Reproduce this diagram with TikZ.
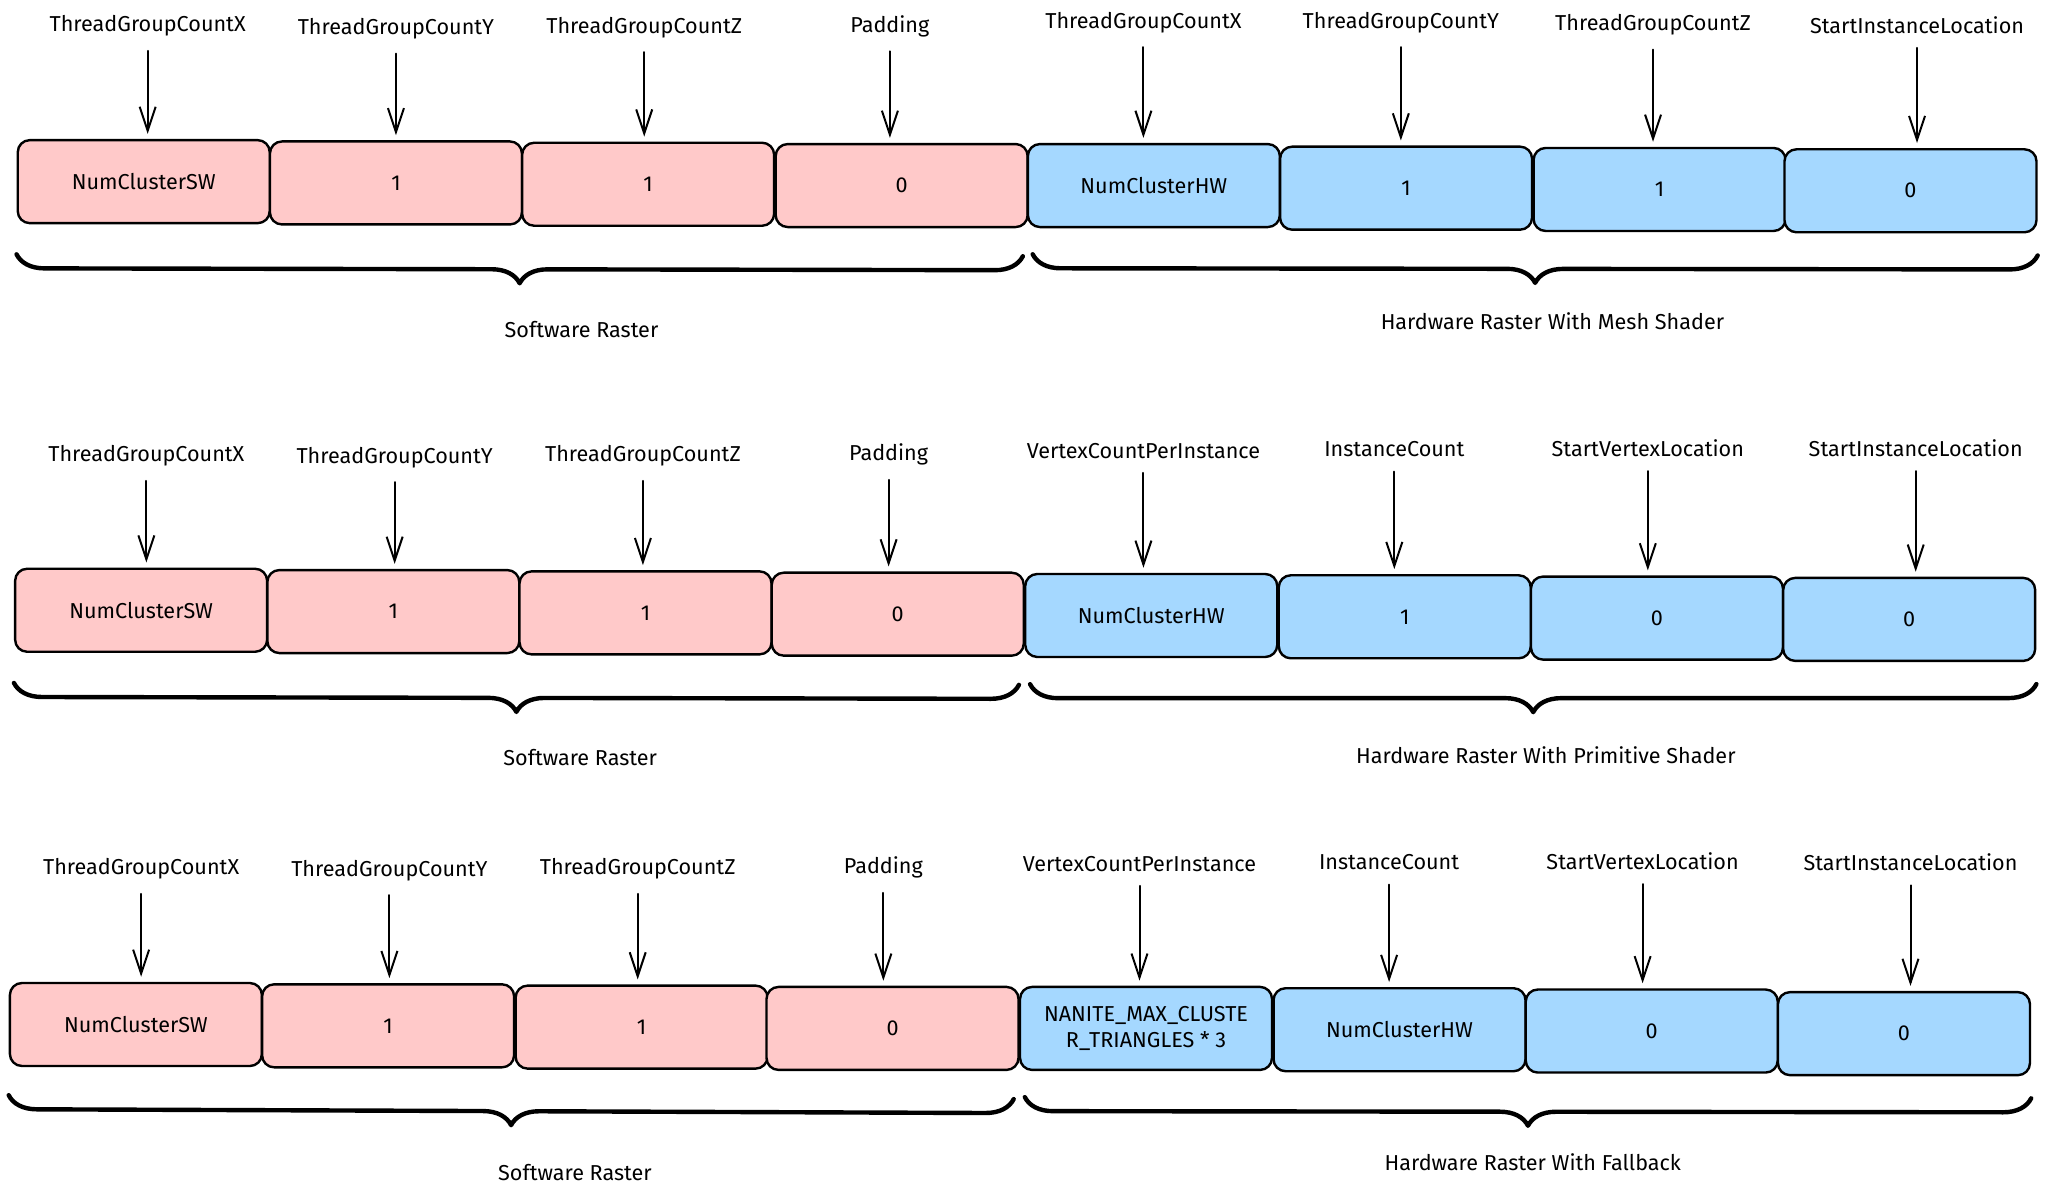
\documentclass[tikz,border=0pt]{standalone}
\usepackage{fontspec}
\setmainfont{Fira Sans}
\usetikzlibrary{arrows.meta,decorations.pathreplacing}
\definecolor{swpink}{HTML}{FFC9C9}
\definecolor{hwblue}{HTML}{A5D8FF}
\begin{document}
\begin{tikzpicture}[x=0.6534pt,y=-0.6534pt,>={Straight Barb[length=12pt,width=8pt]}, font=\fontsize{10.8}{13}\selectfont, line join=round, line cap=round,
    cell/.style={draw, line width=1.2pt, rounded corners=6pt, minimum width=126pt, minimum height=41.5pt, inner sep=1pt, align=center},
    sw/.style={cell, fill=swpink},
    hw/.style={cell, fill=hwblue},
    field/.style={inner sep=0pt},
    ptr/.style={->, line width=1pt, shorten <=7pt, shorten >=2.5pt},
    grp/.style={decorate, decoration={brace, mirror, amplitude=14pt}, line width=2.2pt}]
    \fill[white] (0,0) rectangle (1568,915.2);
    \useasboundingbox (0,0) rectangle (1568,915.2);
    % mesh shader
    \node (a1) at (110,139) [sw] {NumClusterSW};
    \node (a2) at (303,140) [sw] {1};
    \node (a3) at (496,141) [sw] {1};
    \node (a4) at (690,142) [sw] {0};
    \node (a5) at (883,142) [hw] {NumClusterHW};
    \node (a6) at (1076,144) [hw] {1};
    \node (a7) at (1270,145) [hw] {1};
    \node (a8) at (1462,146) [hw] {0};
    \node (ta1) at (113,20) [field] {ThreadGroupCountX};
    \node (ta2) at (303,22) [field] {ThreadGroupCountY};
    \node (ta3) at (493,21) [field] {ThreadGroupCountZ};
    \node (ta4) at (681,20) [field] {Padding};
    \node (ta5) at (875,17) [field] {ThreadGroupCountX};
    \node (ta6) at (1072,17) [field] {ThreadGroupCountY};
    \node (ta7) at (1265,19) [field] {ThreadGroupCountZ};
    \node (ta8) at (1467,19) [field] {StartInstanceLocation};
    \draw[ptr] (ta1.south) -- (ta1.south |- a1.north);
    \draw[ptr] (ta2.south) -- (ta2.south |- a2.north);
    \draw[ptr] (ta3.south) -- (ta3.south |- a3.north);
    \draw[ptr] (ta4.south) -- (ta4.south |- a4.north);
    \draw[ptr] (ta5.south) -- (ta5.south |- a5.north);
    \draw[ptr] (ta6.south) -- (ta6.south |- a6.north);
    \draw[ptr] (ta7.south) -- (ta7.south |- a7.north);
    \draw[ptr] (ta8.south) -- (ta8.south |- a8.north);
    \draw[grp] ([yshift=-15pt]a1.south west) -- ([xshift=-3pt,yshift=-14pt]a4.south east);
    \draw[grp] ([xshift=3pt,yshift=-13pt]a5.south west) -- ([yshift=-11pt]a8.south east);
    \node (sa) at (445,252) {Software Raster};
    \node (ha) at (1188,246) {Hardware Raster With Mesh Shader};
    % primitive shader
    \node (b1) at (108,467) [sw] {NumClusterSW};
    \node (b2) at (301,468) [sw] {1};
    \node (b3) at (494,469) [sw] {1};
    \node (b4) at (687,470) [sw] {0};
    \node (b5) at (881,471) [hw] {NumClusterHW};
    \node (b6) at (1075,472) [hw] {1};
    \node (b7) at (1268,473) [hw] {0};
    \node (b8) at (1461,474) [hw] {0};
    \node (tb1) at (112,349) [field] {ThreadGroupCountX};
    \node (tb2) at (302,350) [field] {ThreadGroupCountY};
    \node (tb3) at (492,349) [field] {ThreadGroupCountZ};
    \node (tb4) at (680,348) [field] {Padding};
    \node (tb5) at (875,345) [field] {VertexCountPerInstance};
    \node (tb6) at (1067,344) [field] {InstanceCount};
    \node (tb7) at (1261,343) [field] {StartVertexLocation};
    \node (tb8) at (1466,343) [field] {StartInstanceLocation};
    \draw[ptr] (tb1.south) -- (tb1.south |- b1.north);
    \draw[ptr] (tb2.south) -- (tb2.south |- b2.north);
    \draw[ptr] (tb3.south) -- (tb3.south |- b3.north);
    \draw[ptr] (tb4.south) -- (tb4.south |- b4.north);
    \draw[ptr] (tb5.south) -- (tb5.south |- b5.north);
    \draw[ptr] (tb6.south) -- (tb6.south |- b6.north);
    \draw[ptr] (tb7.south) -- (tb7.south |- b7.north);
    \draw[ptr] (tb8.south) -- (tb8.south |- b8.north);
    \draw[grp] ([yshift=-15pt]b1.south west) -- ([xshift=-3pt,yshift=-14pt]b4.south east);
    \draw[grp] ([xshift=3pt,yshift=-13pt]b5.south west) -- ([yshift=-11pt]b8.south east);
    \node (sb) at (444,580) {Software Raster};
    \node (hb) at (1183,578) {Hardware Raster With Primitive Shader};
    % fallback
    \node (c1) at (104,784) [sw] {NumClusterSW};
    \node (c2) at (297,785) [sw] {1};
    \node (c3) at (491,786) [sw] {1};
    \node (c4) at (683,787) [sw] {0};
    \node (c5) at (877,787) [hw] {NANITE\_MAX\_CLUSTE\\R\_TRIANGLES * 3};
    \node (c6) at (1071,788) [hw] {NumClusterHW};
    \node (c7) at (1264,789) [hw] {0};
    \node (c8) at (1457,791) [hw] {0};
    \node (tc1) at (108,665) [field] {ThreadGroupCountX};
    \node (tc2) at (298,666) [field] {ThreadGroupCountY};
    \node (tc3) at (488,665) [field] {ThreadGroupCountZ};
    \node (tc4) at (676,664) [field] {Padding};
    \node (tc5) at (872,661) [field] {VertexCountPerInstance};
    \node (tc6) at (1063,660) [field] {InstanceCount};
    \node (tc7) at (1257,659) [field] {StartVertexLocation};
    \node (tc8) at (1462,660) [field] {StartInstanceLocation};
    \draw[ptr] (tc1.south) -- (tc1.south |- c1.north);
    \draw[ptr] (tc2.south) -- (tc2.south |- c2.north);
    \draw[ptr] (tc3.south) -- (tc3.south |- c3.north);
    \draw[ptr] (tc4.south) -- (tc4.south |- c4.north);
    \draw[ptr] (tc5.south) -- (tc5.south |- c5.north);
    \draw[ptr] (tc6.south) -- (tc6.south |- c6.north);
    \draw[ptr] (tc7.south) -- (tc7.south |- c7.north);
    \draw[ptr] (tc8.south) -- (tc8.south |- c8.north);
    \draw[grp] ([yshift=-14pt]c1.south west) -- ([xshift=-3pt,yshift=-14pt]c4.south east);
    \draw[grp] ([xshift=3pt,yshift=-13pt]c5.south west) -- ([yshift=-11pt]c8.south east);
    \node (sc) at (440,897) {Software Raster};
    \node (hc) at (1173,889) {Hardware Raster With Fallback};
\end{tikzpicture}
\end{document}
